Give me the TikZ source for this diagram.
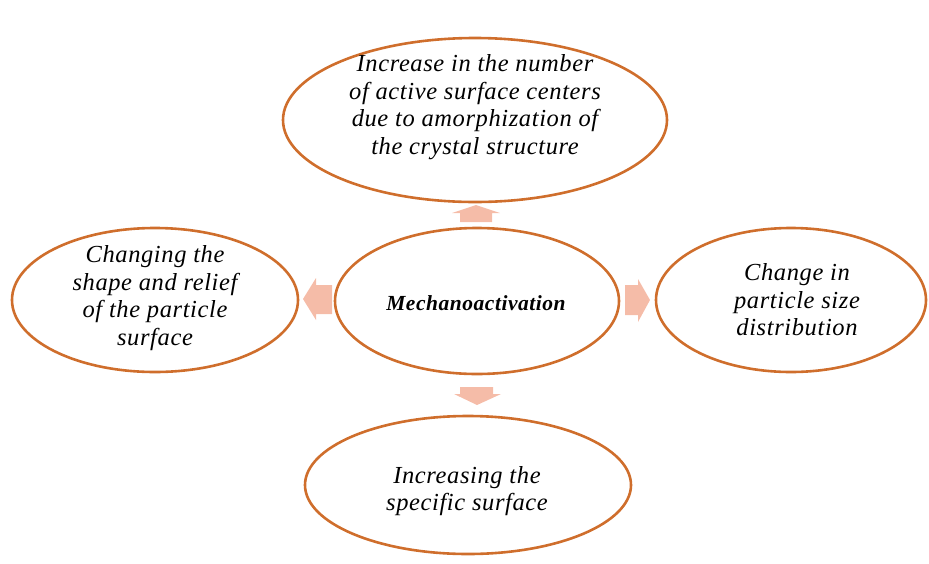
\documentclass[tikz,border=0pt]{standalone}
\usepackage{fontspec}
\setmainfont{Liberation Serif}
\definecolor{edge}{HTML}{CF6E2C}
\definecolor{arrowfill}{HTML}{F5BCA8}
\begin{document}
\begin{tikzpicture}[x=1pt,y=-1pt,
  txt/.style={align=center,font=\fontsize{24.5}{27.5}\selectfont\itshape\addfontfeature{LetterSpace=2.5},inner sep=0pt},
  blockarrow/.style={fill=arrowfill,draw=none}]
\useasboundingbox (0,0) rectangle (929,563);
% ellipses drawn directly as shapes
\draw[draw=edge,line width=2.6pt] (475,120) ellipse [x radius=192,y radius=82];
\draw[draw=edge,line width=2.6pt] (477,301) ellipse [x radius=142,y radius=73];
\draw[draw=edge,line width=2.6pt] (155,300) ellipse [x radius=143,y radius=72];
\draw[draw=edge,line width=2.6pt] (791,300) ellipse [x radius=135,y radius=72];
\draw[draw=edge,line width=2.6pt] (468,485) ellipse [x radius=163,y radius=69];
% texts
\node[txt] (top) at (475,107) {Increase in the number\\of active surface centers\\due to amorphization of\\the crystal structure};
\node[txt,font=\fontsize{21.5}{24}\selectfont\bfseries\itshape\addfontfeature{LetterSpace=2.5}] (ctr) at (476,303) {Mechanoactivation};
\node[txt] (lft) at (155,298) {Changing the\\shape and relief\\of the particle\\surface};
\node[txt] (rgt) at (797,300) {Change in\\particle size\\distribution};
\node[txt] (bot) at (467,491) {Increasing the\\specific surface};
% block arrows
\fill[blockarrow] (460,222) -- (460,213) -- (452,213) -- (476,205) -- (500,213) -- (492,213) -- (492,222) -- cycle;
\fill[blockarrow] (460,387) -- (493,387) -- (493,394) -- (501,394) -- (477,405) -- (454,394) -- (460,394) -- cycle;
\fill[blockarrow] (332,285) -- (316,285) -- (316,278) -- (303,299) -- (316,320) -- (316,314) -- (332,314) -- cycle;
\fill[blockarrow] (625,285) -- (638,285) -- (638,279) -- (650,300) -- (638,322) -- (638,315) -- (625,315) -- cycle;
\end{tikzpicture}
\end{document}
